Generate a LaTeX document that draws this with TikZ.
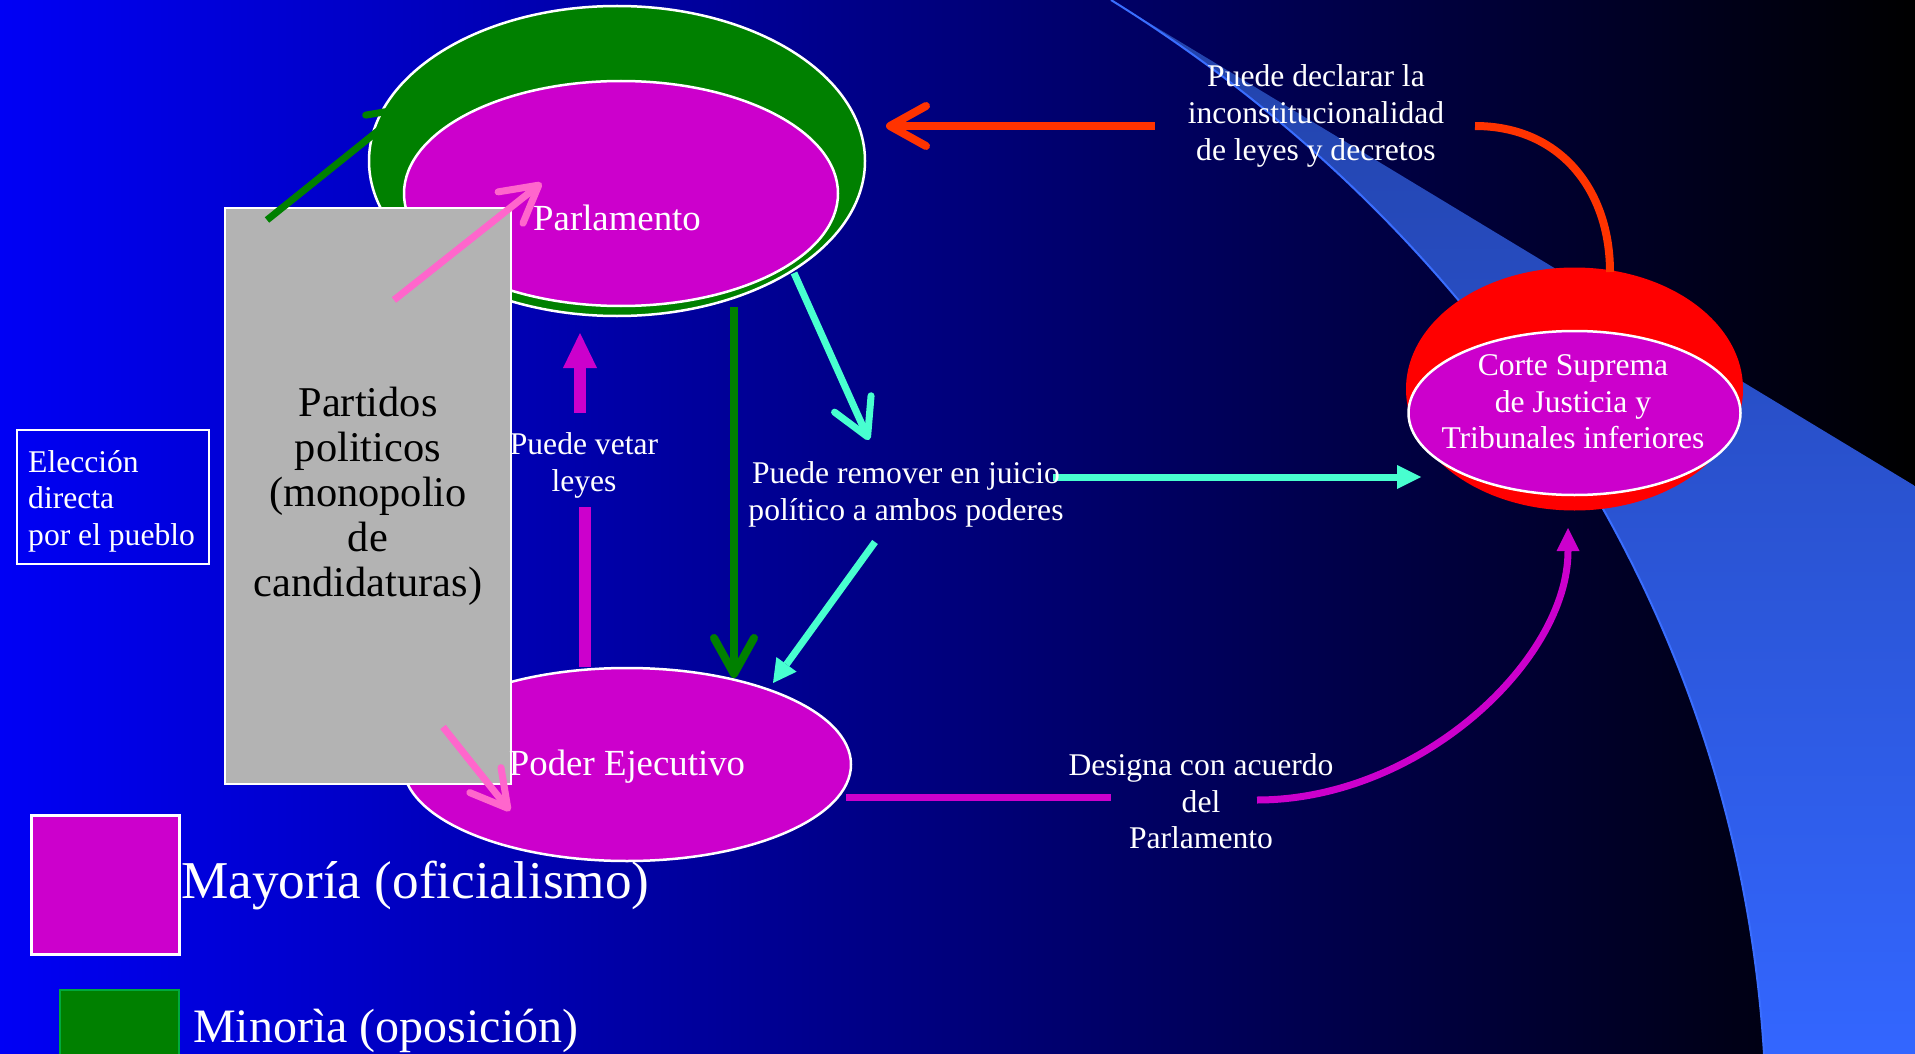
\documentclass[tikz,border=0pt]{standalone}
\usepackage{fontspec}
\setmainfont{Liberation Serif}
\usetikzlibrary{shapes.geometric,arrows.meta}
\definecolor{bgL}{RGB}{0,0,245}
\definecolor{mag}{RGB}{204,0,204}
\definecolor{grn}{RGB}{0,128,0}
\definecolor{grnB}{RGB}{0,170,60}
\definecolor{cyanA}{RGB}{72,255,208}
\definecolor{pinkA}{RGB}{255,102,204}
\definecolor{redA}{RGB}{255,51,0}
\definecolor{redC}{RGB}{255,0,0}
\definecolor{grayB}{RGB}{179,179,179}
\definecolor{swT}{RGB}{34,66,168}
\definecolor{swB}{RGB}{51,102,255}
\definecolor{swL}{RGB}{58,110,255}
\begin{document}
\begin{tikzpicture}[x=1pt,y=-1pt,
  txt/.style={text=white,font=\fontsize{31.6}{36.6}\selectfont,align=center,inner sep=0pt},
  ellw/.style={ellipse,inner sep=0pt,outer sep=0pt,draw=white,line width=2.5pt},
  barbtip/.style={-{Straight Barb[length=36pt,width=40pt,round]}},
]
\useasboundingbox (0,0) rectangle (1915,1054);
\shade[left color=bgL,right color=black] (0,0) rectangle (1915,1054);
% swoosh
\shade[top color=swT,bottom color=swB] (1111,0) .. controls (1450,210) and (1735,580) .. (1764,1054) -- (1915,1054) -- (1915,486) -- cycle;
\draw[swL,line width=2pt] (1111,0) .. controls (1450,210) and (1735,580) .. (1764,1054);

% ellipses
\node[ellw,fill=grn,minimum width=496pt,minimum height=310pt] (parlout) at (617,161) {};
\node[ellw,fill=mag,minimum width=434pt,minimum height=225pt] (parl) at (621,193.5) {};
\node[ellw,fill=mag,minimum width=448pt,minimum height=193pt] (ejec) at (627,764.5) {};
\node[ellipse,inner sep=0pt,fill=redC,minimum width=337pt,minimum height=243pt] (corteout) at (1574.5,389) {};
\node[ellw,fill=mag,minimum width=332pt,minimum height=164pt] (corte) at (1574.5,413) {};

% Partidos box
\node[draw=white,line width=2.5pt,fill=grayB,minimum width=286pt,minimum height=576pt,inner sep=0pt,text=black,font=\fontsize{42.4}{45}\selectfont,align=center] (partidos) at (368,496) {Partidos\\politicos\\(monopolio\\de\\candidaturas)};

% Eleccion box
\node[draw=white,line width=2.5pt,minimum width=192pt,minimum height=134pt,inner sep=0pt] (elecbox) at (113,497) {};
\node[txt,align=left,anchor=west] (elec) at (28,501) {Elección\\directa\\por el pueblo};

% legend
\node[draw=white,line width=2.5pt,fill=mag,minimum width=148pt,minimum height=139pt,inner sep=0pt,anchor=north west] (legmay) at (30,814) {};
\node[draw=grnB,line width=2pt,fill=grn,minimum width=119pt,minimum height=80pt,inner sep=0pt,anchor=north west] (legmin) at (59,989) {};
\node[text=white,font=\fontsize{53.2}{60}\selectfont,inner sep=0pt,anchor=base west] (maytxt) at (181,898) {Mayoría (oficialismo)};
\node[text=white,font=\fontsize{48}{56}\selectfont,inner sep=0pt,anchor=base west] (mintxt) at (193,1042) {Minorìa (oposición)};

% coordinates for connector ends
\coordinate (gA) at (267,220); \coordinate (gB) at (409,106);
\coordinate (pA) at (394,300); \coordinate (pB) at (541.5,183);
\coordinate (pC) at (443,727); \coordinate (pD) at (510,811);
\coordinate (dA) at (734,307); \coordinate (dB) at (734,678);
\coordinate (vA) at (585,667); \coordinate (vB) at (585,507);
\coordinate (vC) at (580,413); \coordinate (vD) at (580,333);
\coordinate (cA) at (794,273); \coordinate (cB) at (869,440);
\coordinate (cC) at (875,542); \coordinate (cD) at (773,683);
\coordinate (cE) at (1053,477); \coordinate (cF) at (1421,477);
\coordinate (rA) at (1610,272); \coordinate (rB) at (1475,126);
\coordinate (rC) at (1155,126); \coordinate (rD) at (886,126);
\coordinate (mA) at (846,797); \coordinate (mB) at (1111,797);
\coordinate (mC) at (1257,800); \coordinate (mD) at (1568,528);

% connectors
\draw[grn,line width=7pt,barbtip] (gA) -- (gB);
\draw[pinkA,line width=7pt,barbtip] (pA) -- (pB);
\draw[pinkA,line width=7pt,barbtip] (pC) -- (pD);
\draw[grn,line width=8pt,barbtip] (dA) -- (dB);
\draw[mag,line width=12pt] (vA) -- (vB);
\draw[mag,line width=12pt,-{Triangle[length=35pt,width=34pt,line width=0pt]}] (vC) -- (vD);
\draw[cyanA,line width=7pt,barbtip] (cA) -- (cB);
\draw[cyanA,line width=7pt,-{Triangle[length=23pt,width=25pt,line width=0pt]}] (cC) -- (cD);
\draw[cyanA,line width=7pt,-{Triangle[length=24pt,width=24pt,line width=0pt]}] (cE) -- (cF);
\draw[redA,line width=8pt] (rA) .. controls (1610,190) and (1560,126) .. (rB);
\draw[redA,line width=8pt,barbtip] (rC) -- (rD);
\draw[mag,line width=7pt] (mA) -- (mB);
\draw[mag,line width=7pt,-{Triangle[length=23pt,width=23pt,line width=0pt]}] (mC) .. controls (1420,800) and (1568,660) .. (mD);

% texts
\node[txt,font=\fontsize{36.8}{42}\selectfont,anchor=base] (parltxt) at (617,230) {Parlamento};
\node[txt,font=\fontsize{36.8}{42}\selectfont,anchor=base] (ejectxt) at (627,775) {Poder Ejecutivo};
\node[txt] (veto) at (584,465.5) {Puede vetar\\leyes};
\node[txt] (remover) at (906,494.5) {Puede remover en juicio\\político a ambos poderes};
\node[txt] (declarar) at (1316,116) {Puede declarar la\\inconstitucionalidad\\de leyes y decretos};
\node[txt] (designa) at (1201,801.5) {Designa con acuerdo\\del\\Parlamento};
\node[txt] (cortetxt) at (1573,401.7) {Corte Suprema\\de Justicia y\\Tribunales inferiores};
\end{tikzpicture}
\end{document}
